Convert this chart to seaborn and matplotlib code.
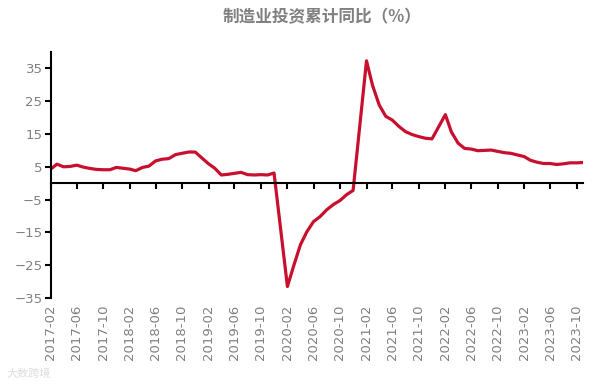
import matplotlib
matplotlib.use("Agg")
import matplotlib.pyplot as plt
import pandas as pd
import seaborn as sns

# 制造业投资累计同比（%），国家统计局口径，1月无数据
meses = [
    "2017-02", "2017-03", "2017-04", "2017-05", "2017-06", "2017-07", "2017-08", "2017-09", "2017-10", "2017-11", "2017-12",
    "2018-02", "2018-03", "2018-04", "2018-05", "2018-06", "2018-07", "2018-08", "2018-09", "2018-10", "2018-11", "2018-12",
    "2019-02", "2019-03", "2019-04", "2019-05", "2019-06", "2019-07", "2019-08", "2019-09", "2019-10", "2019-11", "2019-12",
    "2020-02", "2020-03", "2020-04", "2020-05", "2020-06", "2020-07", "2020-08", "2020-09", "2020-10", "2020-11", "2020-12",
    "2021-02", "2021-03", "2021-04", "2021-05", "2021-06", "2021-07", "2021-08", "2021-09", "2021-10", "2021-11", "2021-12",
    "2022-02", "2022-03", "2022-04", "2022-05", "2022-06", "2022-07", "2022-08", "2022-09", "2022-10", "2022-11", "2022-12",
    "2023-02", "2023-03", "2023-04", "2023-05", "2023-06", "2023-07", "2023-08", "2023-09", "2023-10", "2023-11",
]
valores = [
    4.3, 5.8, 5.0, 5.1, 5.5, 4.9, 4.5, 4.2, 4.1, 4.1, 4.8,
    4.3, 3.8, 4.8, 5.2, 6.8, 7.3, 7.5, 8.7, 9.1, 9.5, 9.5,
    5.9, 4.6, 2.5, 2.7, 3.0, 3.3, 2.6, 2.5, 2.6, 2.5, 3.1,
    -31.5, -25.2, -18.8, -14.8, -11.7, -10.2, -8.1, -6.5, -5.3, -3.5, -2.2,
    37.3, 29.8, 23.8, 20.4, 19.2, 17.3, 15.7, 14.8, 14.2, 13.7, 13.5,
    20.9, 15.6, 12.2, 10.6, 10.4, 9.9, 10.0, 10.1, 9.7, 9.3, 9.1,
    8.1, 7.0, 6.4, 6.0, 6.0, 5.7, 5.9, 6.2, 6.2, 6.3,
]
rotulos_x = [
    "2017-02", "2017-06", "2017-10", "2018-02", "2018-06", "2018-10", "2019-02",
    "2019-06", "2019-10", "2020-02", "2020-06", "2020-10", "2021-02", "2021-06",
    "2021-10", "2022-02", "2022-06", "2022-10", "2023-02", "2023-06", "2023-10",
]
ticks_y = [-35, -25, -15, -5, 5, 15, 25, 35]

sns.set_style("white")
plt.rcParams["font.family"] = ["Noto Sans CJK SC", "DejaVu Sans"]

df = pd.DataFrame({"mes": pd.to_datetime(meses), "valor": valores})
cinza = "#808080"

fig = plt.figure(figsize=(6.05, 3.85), dpi=100)
ax = fig.add_axes([0.084, 0.226, 0.880, 0.639])

sns.lineplot(data=df, x="mes", y="valor", color="#C8102E", linewidth=2.3, ax=ax)

ax.set_xlim(df["mes"].iloc[0], df["mes"].iloc[-1])
ax.set_ylim(-35, 40)
ax.set_yticks(ticks_y)
ax.set_xlabel("")
ax.set_ylabel("")

# eixo x cruzando o zero, rótulos embaixo
pos_x = pd.to_datetime(rotulos_x)
ax.spines["bottom"].set_position(("data", 0))
ax.spines["top"].set_visible(False)
ax.spines["right"].set_visible(False)
for s in ["left", "bottom"]:
    ax.spines[s].set_color("black")
    ax.spines[s].set_linewidth(1.5)
ax.set_xticks(pos_x)
ax.tick_params(axis="x", bottom=True, direction="out", length=4, width=1.5,
               color="black", labelbottom=False)
ax.tick_params(axis="y", left=True, direction="out", length=4, width=1.5, color="black",
               labelcolor=cinza, labelsize=9.5, pad=2)

sec = ax.secondary_xaxis("bottom")
sec.set_xticks(pos_x, rotulos_x, rotation=90)
sec.spines["bottom"].set_visible(False)
sec.tick_params(length=0, labelcolor=cinza, labelsize=9.5, pad=5)
for t in sec.get_xticklabels():
    t.set_fontfamily(["DejaVu Sans"])
for t in ax.get_yticklabels():
    t.set_fontfamily(["DejaVu Sans"])

fig.text(0.532, 0.955, "制造业投资累计同比（%）", ha="center", va="center",
         fontsize=12, fontweight="bold", color=cinza)
fig.text(0.01, 0.03, "大数跨境", ha="left", va="center", fontsize=8, color="#dddddd")

fig.savefig("out.png", dpi=100)
